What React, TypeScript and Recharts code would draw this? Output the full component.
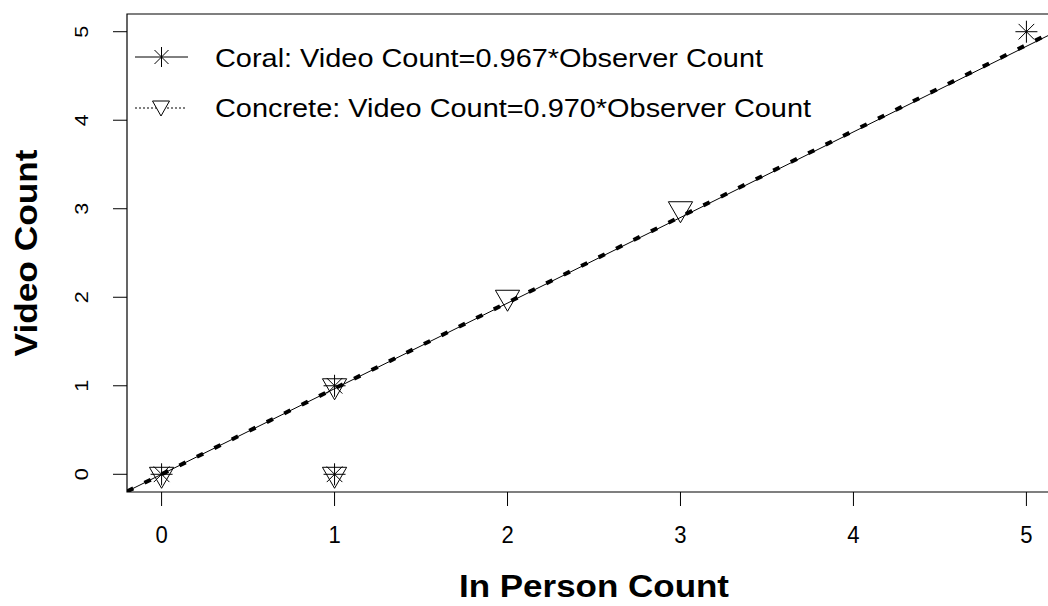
import React from "react";
import {
  ScatterChart,
  Scatter,
  XAxis,
  YAxis,
  ReferenceLine,
  ReferenceArea,
  Legend,
} from "recharts";

// ---- data ----
const xTicks = [0, 1, 2, 3, 4, 5];
const yTicks = [0, 1, 2, 3, 4, 5];
const axisMin = -0.2;
const axisMax = 5.2;

const coralX = [0, 1, 1, 5];
const coralY = [0, 1, 0, 5];
const concreteX = [0, 1, 1, 2, 3];
const concreteY = [0, 1, 0, 2, 3];

const coralSlope = 0.967;
const concreteSlope = 0.97;

const coralLabel = "Coral: Video Count=0.967*Observer Count";
const concreteLabel = "Concrete: Video Count=0.970*Observer Count";
const xTitle = "In Person Count";
const yTitle = "Video Count";

const coralData = coralX.map((x, i) => ({ x, y: coralY[i] }));
const concreteData = concreteX.map((x, i) => ({ x, y: concreteY[i] }));

const FONT = "'Liberation Sans', Arial, sans-serif";

const Star = (props: any) => {
  const { cx, cy } = props;
  const a = 11;
  const b = 7.8;
  return (
    <g stroke="#000" strokeWidth={1}>
      <line x1={cx - a} y1={cy} x2={cx + a} y2={cy} />
      <line x1={cx} y1={cy - a} x2={cx} y2={cy + a} />
      <line x1={cx - b} y1={cy - b} x2={cx + b} y2={cy + b} />
      <line x1={cx - b} y1={cy + b} x2={cx + b} y2={cy - b} />
    </g>
  );
};

const Tri = (props: any) => {
  const { cx, cy } = props;
  const r = 14;
  const hw = r * 0.866;
  return (
    <polygon
      points={`${cx - hw},${cy - r / 2} ${cx + hw},${cy - r / 2} ${cx},${cy + r}`}
      fill="none"
      stroke="#000"
      strokeWidth={1}
    />
  );
};

const XTick = (p: any) => (
  <text
    transform={`translate(${p.x},${p.y + 35}) scale(0.92,1)`}
    textAnchor="middle"
    fontSize={24}
    fontFamily={FONT}
    fill="#000"
  >
    {p.payload.value}
  </text>
);

const YTick = (p: any) => (
  <text
    transform={`translate(${p.x - 23},${p.y}) rotate(-90) scale(1.2,1)`}
    textAnchor="middle"
    fontSize={18}
    fontFamily={FONT}
    fill="#000"
  >
    {p.payload.value}
  </text>
);

const XTitle = (p: any) => {
  const vb = p.viewBox || {};
  return (
    <text
      x={vb.x + vb.width / 2}
      y={vb.y + 105}
      textAnchor="middle"
      fontSize={31}
      fontWeight="bold"
      fontFamily={FONT}
      textLength={270}
      lengthAdjust="spacingAndGlyphs"
      fill="#000"
    >
      {xTitle}
    </text>
  );
};

const YTitle = (p: any) => {
  const vb = p.viewBox || {};
  const cy = vb.y + vb.height / 2;
  return (
    <text
      transform={`translate(37,${cy}) rotate(-90)`}
      textAnchor="middle"
      fontSize={31}
      fontWeight="bold"
      fontFamily={FONT}
      textLength={207}
      lengthAdjust="spacingAndGlyphs"
      fill="#000"
    >
      {yTitle}
    </text>
  );
};

const LegendContent = () => (
  <svg width={1048} height={140} style={{ display: "block" }}>
    <line x1={135} y1={57} x2={188} y2={57} stroke="#000" strokeWidth={1} />
    <g stroke="#000" strokeWidth={1}>
      <line x1={161.5} y1={47} x2={161.5} y2={67} />
      <line x1={154.5} y1={50} x2={168.5} y2={64} />
      <line x1={154.5} y1={64} x2={168.5} y2={50} />
    </g>
    <text
      x={215}
      y={67}
      fontSize={26}
      fontFamily={FONT}
      textLength={548}
      lengthAdjust="spacingAndGlyphs"
      fill="#000"
    >
      {coralLabel}
    </text>
    <line
      x1={135}
      y1={108}
      x2={186}
      y2={108}
      stroke="#000"
      strokeWidth={1}
      strokeDasharray="2 2"
    />
    <polygon
      points="152.5,101 169.5,101 161,116"
      fill="#fff"
      stroke="#000"
      strokeWidth={1}
    />
    <text
      x={215}
      y={117}
      fontSize={26}
      fontFamily={FONT}
      textLength={596}
      lengthAdjust="spacingAndGlyphs"
      fill="#000"
    >
      {concreteLabel}
    </text>
  </svg>
);

export default function App() {
  return (
    <div
      style={{
        position: "fixed",
        left: 0,
        top: 0,
        width: 1048,
        height: 606,
        overflow: "hidden",
        background: "#fff",
      }}
    >
      <ScatterChart
        width={1080}
        height={606}
        margin={{ top: 14, right: 19, bottom: 0, left: 0 }}
      >
        <XAxis
          type="number"
          dataKey="x"
          domain={[axisMin, axisMax]}
          ticks={xTicks}
          allowDataOverflow
          axisLine={false}
          tickLine={{ stroke: "#000", strokeWidth: 1 }}
          tickSize={14}
          tick={<XTick />}
          height={114}
          label={<XTitle />}
        />
        <YAxis
          type="number"
          dataKey="y"
          domain={[axisMin, axisMax]}
          ticks={yTicks}
          allowDataOverflow
          axisLine={false}
          tickLine={{ stroke: "#000", strokeWidth: 1 }}
          tickSize={14}
          tick={<YTick />}
          width={127}
          label={<YTitle />}
        />
        <ReferenceArea
          x1={axisMin}
          x2={axisMax}
          y1={axisMin}
          y2={axisMax}
          fill="none"
          fillOpacity={0}
          stroke="#000"
          strokeWidth={1.2}
          ifOverflow="visible"
        />
        <ReferenceLine
          segment={[
            { x: axisMin, y: axisMin * coralSlope },
            { x: axisMax, y: axisMax * coralSlope },
          ]}
          stroke="#000"
          strokeWidth={1}
          ifOverflow="hidden"
        />
        <ReferenceLine
          segment={[
            { x: axisMin, y: axisMin * concreteSlope },
            { x: axisMax, y: axisMax * concreteSlope },
          ]}
          stroke="#000"
          strokeWidth={4}
          strokeDasharray="7 12.5"
          ifOverflow="hidden"
        />
        <Scatter
          name="Coral"
          data={coralData}
          shape={<Star />}
          isAnimationActive={false}
        />
        <Scatter
          name="Concrete"
          data={concreteData}
          shape={<Tri />}
          isAnimationActive={false}
        />
        <Legend
          layout="horizontal"
          align="center"
          verticalAlign="middle"
          wrapperStyle={{ top: 0, left: 0, width: 1048 }}
          content={<LegendContent />}
        />
      </ScatterChart>
    </div>
  );
}
